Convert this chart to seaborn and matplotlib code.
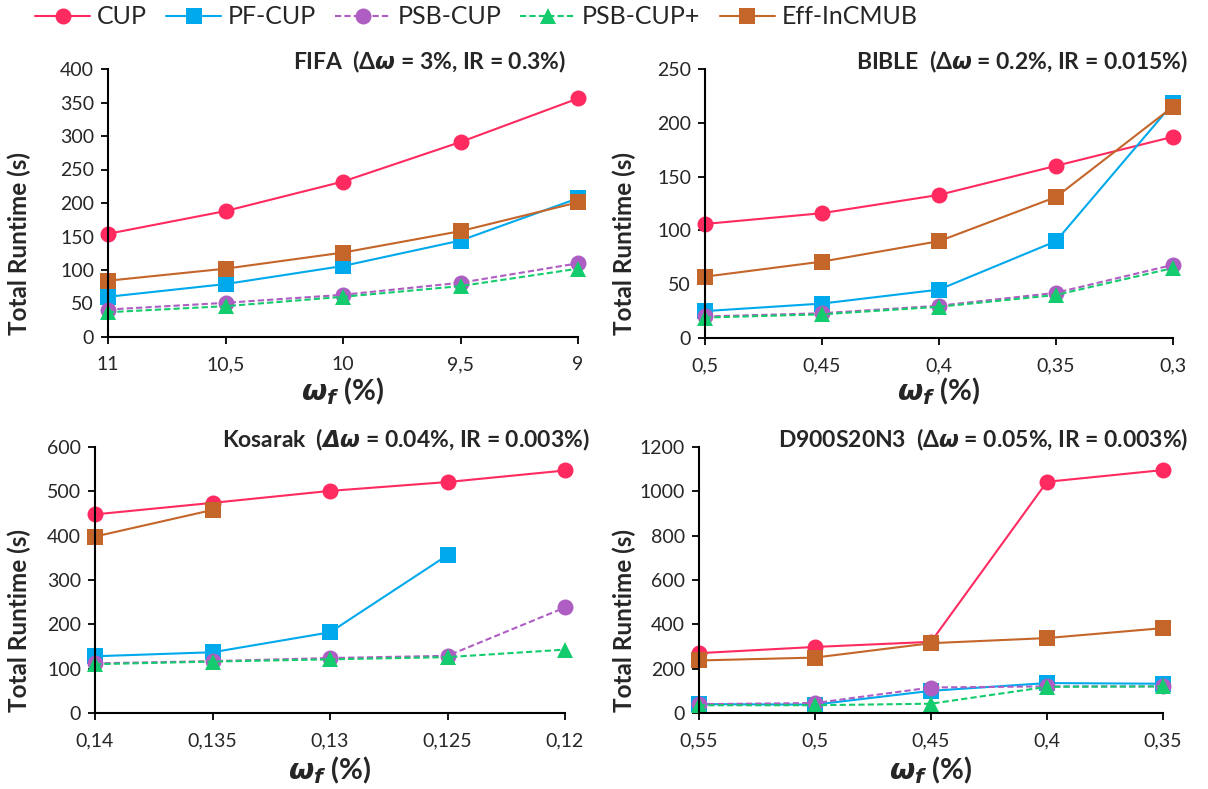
import matplotlib
matplotlib.use("Agg")
import matplotlib.pyplot as plt
import numpy as np
import pandas as pd
import seaborn as sns
from matplotlib.lines import Line2D

sns.set_style("ticks")
plt.rcParams['font.family'] = ['Lato', 'DejaVu Sans']
plt.rcParams['mathtext.fontset'] = 'custom'
plt.rcParams['mathtext.bf'] = 'Lato:bold'
plt.rcParams['mathtext.it'] = 'Lato:italic'
plt.rcParams['mathtext.rm'] = 'Lato'

methods = ['CUP', 'PF-CUP', 'PSB-CUP', 'PSB-CUP+', 'Eff-InCMUB']
colors = {'CUP': '#FF2A5F', 'PF-CUP': '#00A9EB', 'PSB-CUP': '#AE5EC2',
          'PSB-CUP+': '#14CC6E', 'Eff-InCMUB': '#C4652A'}
markers = {'CUP': 'o', 'PF-CUP': 's', 'PSB-CUP': 'o', 'PSB-CUP+': '^', 'Eff-InCMUB': 's'}
dashes = {'CUP': '', 'PF-CUP': '', 'PSB-CUP': (3, 1.5), 'PSB-CUP+': (3, 1.5), 'Eff-InCMUB': ''}

# FIFA
fifa_x = ['11', '10,5', '10', '9,5', '9']
fifa_cup = [154, 188, 232, 291, 356]
fifa_pf = [60, 79, 106, 144, 207]
fifa_psb = [41, 51, 63, 81, 110]
fifa_psbp = [37, 46, 60, 76, 102]
fifa_eff = [84, 102, 126, 158, 201]

# BIBLE
bible_x = ['0,5', '0,45', '0,4', '0,35', '0,3']
bible_cup = [106, 116, 133, 160, 187]
bible_pf = [25, 32, 45, 90, 218]
bible_psb = [20, 23, 30, 42, 68]
bible_psbp = [19, 22, 29, 40, 65]
bible_eff = [57, 71, 90, 131, 215]

# Kosarak
kos_x = ['0,14', '0,135', '0,13', '0,125', '0,12']
kos_cup = [448, 474, 501, 521, 547]
kos_pf = [128, 137, 182, 356, np.nan]
kos_psb = [112, 117, 124, 129, 238]
kos_psbp = [110, 116, 121, 126, 143]
kos_eff = [398, 458, np.nan, np.nan, np.nan]

# D900S20N3
d9_x = ['0,55', '0,5', '0,45', '0,4', '0,35']
d9_cup = [270, 298, 321, 1043, 1096]
d9_pf = [40, 38, 100, 135, 132]
d9_psb = [40, 45, 115, 120, 120]
d9_psbp = [35, 35, 42, 118, 120]
d9_eff = [237, 250, 315, 338, 383]

panels = [
    (fifa_x, [fifa_cup, fifa_pf, fifa_psb, fifa_psbp, fifa_eff], 400, 50,
     r'FIFA  ($\mathbf{\Delta}\mathbfit{\omega}$ = 3%, IR = 0.3%)'),
    (bible_x, [bible_cup, bible_pf, bible_psb, bible_psbp, bible_eff], 250, 50,
     r'BIBLE  ($\mathbf{\Delta}\mathbfit{\omega}$ = 0.2%, IR = 0.015%)'),
    (kos_x, [kos_cup, kos_pf, kos_psb, kos_psbp, kos_eff], 600, 100,
     r'Kosarak  ($\mathbfit{\Delta\omega}$ = 0.04%, IR = 0.003%)'),
    (d9_x, [d9_cup, d9_pf, d9_psb, d9_psbp, d9_eff], 1200, 200,
     r'D900S20N3  ($\mathbf{\Delta}\mathbfit{\omega}$ = 0.05%, IR = 0.003%)'),
]

W, H = 1208, 789
# axes boxes in pixels: left, right, top, bottom
boxes = [(108, 578, 69, 337), (705, 1173, 69, 338), (95, 565, 447, 713), (699, 1163, 447, 713)]
title_pos = [(566, 62), (1188, 62), (590, 440), (1188, 440)]
ylab_x = [19, 624, 19, 624]
xlab_y = [391, 391, 770, 770]

fig = plt.figure(figsize=(W / 100, H / 100), dpi=100)

for (xl, series, ymax, ystep, title), (l, r, t, b), (tx, ty), yx, xy in zip(
        panels, boxes, title_pos, ylab_x, xlab_y):
    ax = fig.add_axes([l / W, 1 - b / H, (r - l) / W, (b - t) / H])
    rows = []
    for m, vals in zip(methods, series):
        for i, v in enumerate(vals):
            if not np.isnan(v):
                rows.append({'pos': i, 'value': v, 'method': m})
    df = pd.DataFrame(rows)
    sns.lineplot(data=df, x='pos', y='value', hue='method', style='method',
                 hue_order=methods, style_order=methods, palette=colors,
                 markers=markers, dashes=dashes, markersize=11.5,
                 markeredgewidth=0, linewidth=1.5, legend=False, ax=ax)
    ax.set_xlim(0, len(xl) - 1)
    ax.set_ylim(0, ymax)
    ax.set_xticks(range(len(xl)))
    ax.set_xticklabels(xl)
    ax.set_yticks(np.arange(0, ymax + 1, ystep))
    ax.tick_params(axis='both', labelsize=14, length=5, width=1.3, color='black', pad=5)
    ax.tick_params(axis='x', pad=9)
    for s in ['top', 'right']:
        ax.spines[s].set_visible(False)
    for s in ['left', 'bottom']:
        ax.spines[s].set_linewidth(1.5)
        ax.spines[s].set_color('black')
    for ln in ax.lines:
        ln.set_clip_on(False)
    ax.set_xlabel('')
    ax.set_ylabel('')
    fig.text(tx / W, 1 - ty / H, title, ha='right', va='center',
             fontsize=16.5, fontweight='bold')
    fig.text(yx / W, 1 - ((t + b) / 2 + 40) / H, 'Total Runtime (s)', rotation=90,
             ha='center', va='center', fontsize=17.5, fontweight='bold')
    fig.text((l + r) / 2 / W, 1 - xy / H, r'$\mathbfit{\omega_f}$ (%)',
             ha='center', va='center', fontsize=21, fontweight='bold')

handles = [Line2D([], [], color=colors[m], marker=markers[m], markersize=11.5,
                  markeredgewidth=0, linewidth=1.5,
                  linestyle='-' if dashes[m] == '' else (0, (3, 1.5)))
           for m in methods]
fig.legend(handles, methods, loc='center left', bbox_to_anchor=(35 / W, 1 - 17 / H),
           ncol=5, frameon=False, fontsize=18, handlelength=2.2,
           handletextpad=0.28, columnspacing=0.76, borderpad=0, borderaxespad=0)

fig.savefig('out.png', dpi=100)
